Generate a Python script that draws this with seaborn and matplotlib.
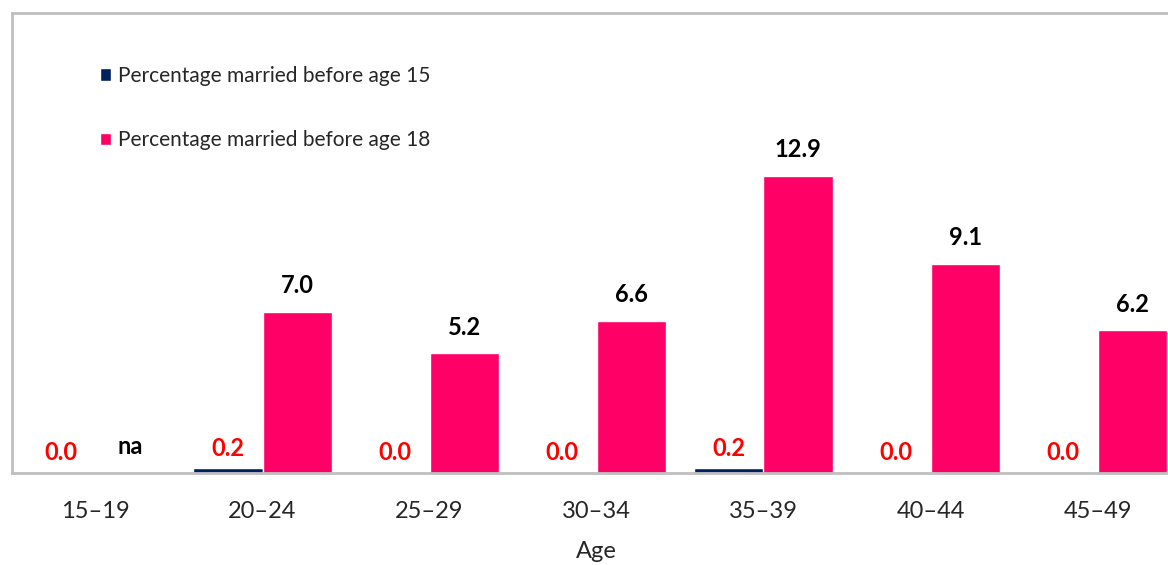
import numpy as np
import pandas as pd
import matplotlib
matplotlib.use("Agg")
import matplotlib.pyplot as plt
import seaborn as sns

categories = ["15–19", "20–24", "25–29", "30–34", "35–39", "40–44", "45–49"]
series_names = ["Percentage married before age 15", "Percentage married before age 18"]
before_15 = [0.0, 0.2, 0.0, 0.0, 0.2, 0.0, 0.0]
before_18 = [np.nan, 7.0, 5.2, 6.6, 12.9, 9.1, 6.2]
colors = ["#002060", "#FF0066"]

df = pd.DataFrame({
    "Age": categories * 2,
    "value": before_15 + before_18,
    "series": [series_names[0]] * len(categories) + [series_names[1]] * len(categories),
})

sns.set_theme(style="white")
plt.rcParams["font.family"] = ["Lato", "DejaVu Sans"]

W, H = 1168, 565
fig = plt.figure(figsize=(W / 100, H / 100), dpi=100)
left, right, top, bottom = 12, 1181, 13, 473
ax = fig.add_axes([left / W, (H - bottom) / H, (right - left) / W, (bottom - top) / H])

bar_width = 0.83
sns.barplot(data=df, x="Age", y="value", hue="series", hue_order=series_names,
            palette=colors, width=bar_width, saturation=1, ax=ax, legend=True)

ax.set_ylim(0, 20)
ax.set_xlim(-0.5, 6.5)
ax.set_yticks([])
ax.set_ylabel("")
ax.set_xlabel("Age", fontsize=17, color="#262626", labelpad=14)
ax.tick_params(axis="x", which="major", length=0, labelsize=17, labelcolor="#262626", pad=20)
ax.set_xticks(np.arange(-0.5, 7, 1), minor=True)
ax.tick_params(axis="x", which="minor", length=6, width=2, color="#BFBFBF")

for s in ["left", "top", "bottom"]:
    ax.spines[s].set_color("#BFBFBF")
    ax.spines[s].set_linewidth(2)
ax.spines["right"].set_visible(False)

# data labels: position each label over its category slot (dodged half of the group)
offsets = [-bar_width / 4, bar_width / 4]
for i, (v15, v18) in enumerate(zip(before_15, before_18)):
    ax.annotate(f"{v15:.1f}", (i + offsets[0], v15), xytext=(0, 14.5), textcoords="offset points",
                ha="center", va="center", color="#FF0000", fontsize=17, fontweight="bold")
    txt = "na" if np.isnan(v18) else f"{v18:.1f}"
    hv = 0 if np.isnan(v18) else v18
    ax.annotate(txt, (i + offsets[1], hv), xytext=(0, 19), textcoords="offset points",
                ha="center", va="center", color="black", fontsize=17, fontweight="bold")

leg = ax.legend(loc="upper left", bbox_to_anchor=((100 - left) / (right - left), 1 - (66 - top) / (bottom - top)),
                frameon=False, fontsize=15, handlelength=0.55, handleheight=0.55,
                handletextpad=0.3, labelspacing=2.13, borderpad=0, borderaxespad=0)
for t in leg.get_texts():
    t.set_color("#262626")

fig.savefig("out.png", dpi=100)
